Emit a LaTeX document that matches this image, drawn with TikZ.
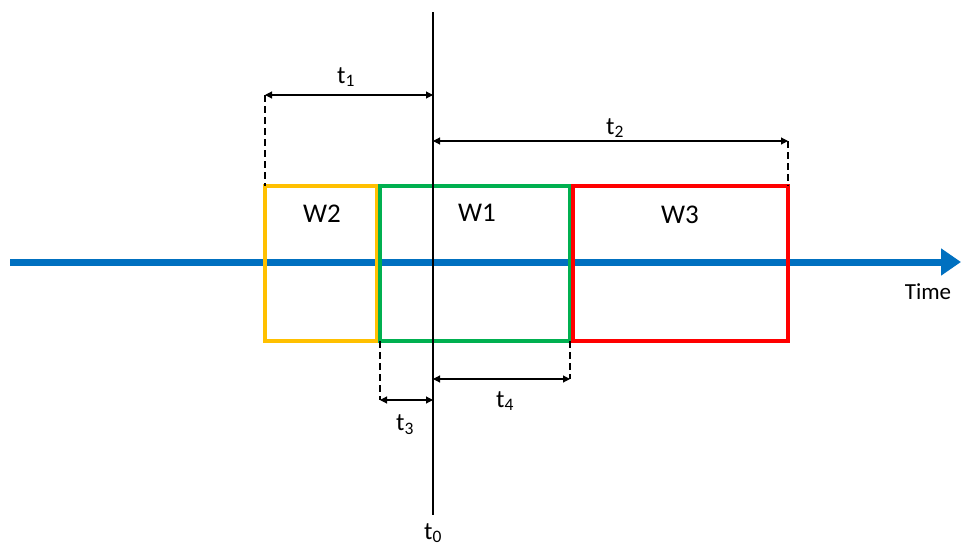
\documentclass[tikz,border=0pt]{standalone}
\usepackage{fontspec}
\setmainfont{Carlito}
\usetikzlibrary{arrows.meta}
\definecolor{tblue}{HTML}{0070C0}
\definecolor{torange}{HTML}{FFC000}
\definecolor{tgreen}{HTML}{00B050}
\definecolor{tred}{HTML}{FF0000}
\begin{document}
\begin{tikzpicture}[x=1pt,y=-1pt,
  win/.style={line width=3.5pt},
  dim/.style={line width=1.1pt,{Triangle[length=7pt,width=7pt]}-{Triangle[length=7pt,width=7pt]}},
  ext/.style={line width=1.1pt,dash pattern=on 7pt off 4pt},
  lbl/.style={font=\fontsize{25}{28}\selectfont,inner sep=0pt},
  wl/.style={font=\fontsize{27}{30}\selectfont,inner sep=0pt},
  tl/.style={font=\fontsize{23}{26}\selectfont,inner sep=0pt}]
\useasboundingbox (0,0) rectangle (962,546);
% time axis
\coordinate (ts) at (10,262);
\coordinate (te) at (961,262);
\draw[tblue,line width=7pt,-{Triangle[length=20pt,width=26pt]}] (ts) -- (te);
\node[tl,anchor=north] (time) at (928,283) {Time};
% windows
\draw[win,torange] (265,186) rectangle (377,341);
\draw[win,tgreen] (380,186) rectangle (570,341);
\draw[win,tred] (573,186) rectangle (788,341);
\coordinate (w2nw) at (265,186);
\coordinate (w1sw) at (380,341);
\coordinate (w1se) at (570,341);
\coordinate (w3ne) at (788,186);
\node[wl] (W2) at (322,214) {W2};
\node[wl] (W1) at (477,213) {W1};
\node[wl] (W3) at (680,215) {W3};
% t0 line
\coordinate (t0top) at (433,12);
\coordinate (t0bot) at (433,515);
\draw[line width=1.6pt] (t0top) -- (t0bot);
\node[lbl,anchor=north] (t0) at (433,523) {t\textsubscript{0}};
% dimension anchors
\coordinate (a1l) at (265,95);
\coordinate (a1r) at (433,95);
\coordinate (a2l) at (433,141);
\coordinate (a2r) at (788,141);
\coordinate (a3l) at (380,400);
\coordinate (a3r) at (433,400);
\coordinate (a4l) at (433,379);
\coordinate (a4r) at (570,379);
% extension lines
\draw[ext] (a1l) -- (w2nw);
\draw[ext] (a2r) -- (w3ne);
\draw[ext] (w1sw) -- (a3l);
\draw[ext] (w1se) -- (a4r);
% dimension arrows
\draw[dim] (a1l) -- (a1r);
\draw[dim] (a2l) -- (a2r);
\draw[dim] (a3l) -- (a3r);
\draw[dim] (a4l) -- (a4r);
\node[lbl] (t1) at (346,77) {t\textsubscript{1}};
\node[lbl] (t2) at (615,128) {t\textsubscript{2}};
\node[lbl] (t3) at (405,425) {t\textsubscript{3}};
\node[lbl] (t4) at (505,401) {t\textsubscript{4}};
\end{tikzpicture}
\end{document}
